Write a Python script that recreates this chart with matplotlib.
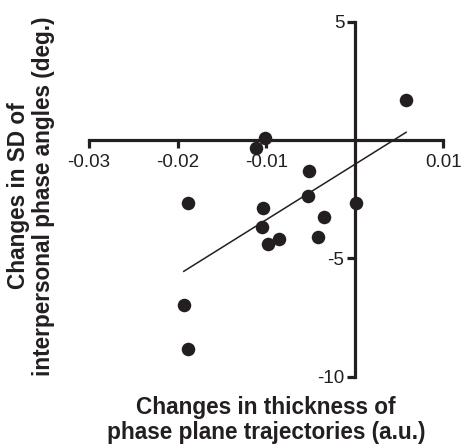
import numpy as np
import matplotlib
matplotlib.use("Agg")
from matplotlib import pyplot as plt

plt.rcParams['font.family'] = ['Liberation Sans', 'DejaVu Sans']

# change in trajectory thickness (a.u.) vs change in SD of phase angles (deg.)
thickness = [0.0058, -0.0101, -0.0112, -0.0052, -0.0188, -0.0104, -0.0053,
             0.0001, -0.0035, -0.0105, -0.0098, -0.0085, -0.0042, -0.0193, -0.0188]
sd_change = [1.69, 0.10, -0.33, -1.30, -2.65, -2.89, -2.35,
             -2.65, -3.27, -3.69, -4.39, -4.17, -4.11, -6.97, -8.83]

xticks = [-0.03, -0.02, -0.01, 0.01]
xticklabels = ['-0.03', '-0.02', '-0.01', '0.01']
yticks = [-10, -5, 5]
yticklabels = ['-10', '-5', '5']

ink = '#231f20'

fig = plt.figure(figsize=(4.62, 4.45), dpi=100)
ax = fig.add_axes([0.1926, 0.1535, 0.767, 0.7977])

ax.scatter(thickness, sd_change, s=95, color=ink, zorder=3, linewidths=0)

# least squares line over the range of the data
slope, icpt = np.polyfit(thickness, sd_change, 1)
xl = np.array([min(thickness), max(thickness)])
ax.plot(xl, slope * xl + icpt, color=ink, lw=1.1, zorder=2)

ax.set_xlim(-0.03, 0.01)
ax.set_ylim(-10, 5)
for s in ['top', 'right']:
    ax.spines[s].set_visible(False)
ax.spines['left'].set_position(('data', 0))
ax.spines['bottom'].set_position(('data', 0))
for s in ['left', 'bottom']:
    ax.spines[s].set_linewidth(2.3)
    ax.spines[s].set_color(ink)
    ax.spines[s].set_capstyle('projecting')

ax.set_xticks(xticks)
ax.set_xticklabels(xticklabels)
ax.set_yticks(yticks)
ax.set_yticklabels(yticklabels)
ax.tick_params(axis='both', length=6, width=2.3, color=ink, labelsize=13.5,
               labelcolor=ink)
ax.tick_params(axis='x', direction='out', pad=4)
ax.tick_params(axis='y', direction='out', pad=1.5)
ax.patch.set_alpha(0)

fig.text(0.576, 0.057, 'Changes in thickness of\nphase plane trajectories (a.u.)',
         ha='center', va='center', fontsize=16.3, fontweight='bold', color=ink,
         linespacing=1.12)
fig.text(0.068, 0.56, 'Changes in SD of\ninterpersonal phase angles (deg.)',
         ha='center', va='center', rotation=90, fontsize=16.3, fontweight='bold',
         color=ink, linespacing=1.12)

fig.savefig('out.png', dpi=100)
